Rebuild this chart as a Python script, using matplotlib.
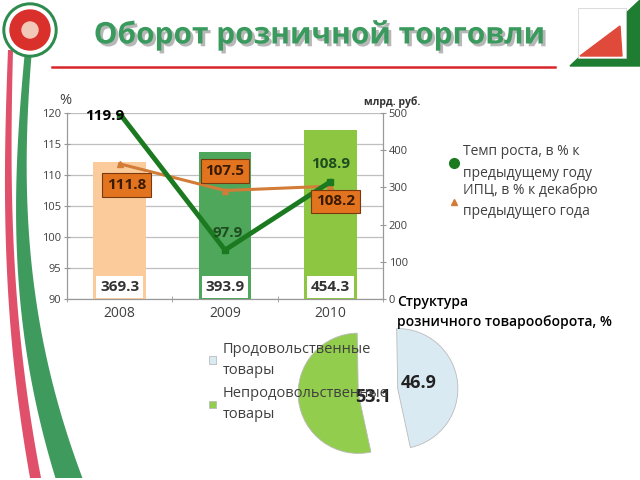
import matplotlib
matplotlib.use("Agg")
import matplotlib.pyplot as plt
import matplotlib.patheffects as pe
from matplotlib.patches import Polygon, Circle, Rectangle
from matplotlib.lines import Line2D
import numpy as np

plt.rcParams['font.family'] = ['Open Sans', 'DejaVu Sans']

# ---- data ----
years = ['2008', '2009', '2010']
turnover = [369.3, 393.9, 454.3]          # млрд. руб. (right axis)
growth = [119.9, 97.9, 108.9]             # Темп роста, %
cpi = [111.8, 107.5, 108.2]               # ИПЦ, %
pie_labels = ['Продовольственные\nтовары', 'Непродовольственные\nтовары']
pie_values = [46.9, 53.1]
left_ticks = [90, 95, 100, 105, 110, 115, 120]
right_ticks = [0, 100, 200, 300, 400, 500]

bar_colors = ['#FCCB9B', '#4FA75B', '#8DC641']
green = '#1B7A20'
orange = '#D27C38'
txt = '#404040'

fig = plt.figure(figsize=(6.4, 4.8), dpi=100)
fig.patch.set_facecolor('white')

# ---- decorations ----
deco = fig.add_axes([0, 0, 1, 1], zorder=-5)
deco.set_xlim(0, 640); deco.set_ylim(480, 0); deco.axis('off')
t = np.linspace(0, 1, 60)
ry = 50 + 428 * t
# red stripe
rx_l = 8 - 7 * np.sin(np.pi * t * 0.75) + 27 * t ** 2.4
rx_r = rx_l + 5 + 6 * t
deco.add_patch(Polygon(np.column_stack([np.r_[rx_l, rx_r[::-1]], np.r_[ry, ry[::-1]]]),
                       closed=True, color='#E0506A', lw=0))
# green stripe
gx_l = 25 - 18 * np.sin(np.pi * t * 0.7) + 45 * t ** 2.4
gx_r = gx_l + 7 + 20 * t ** 1.5
deco.add_patch(Polygon(np.column_stack([np.r_[gx_l, gx_r[::-1]], np.r_[ry, ry[::-1]]]),
                       closed=True, color='#3F9A5E', lw=0))
# left logo
deco.add_patch(Circle((30, 30), 27, color='#2E8B4E'))
deco.add_patch(Circle((30, 30), 24, color='white'))
deco.add_patch(Circle((30, 30), 20, color='#D9302C'))
deco.add_patch(Circle((30, 30), 8, color='#F2C9B8'))
# right logo
deco.add_patch(Polygon([[570, 66], [640, 0], [640, 66]], closed=True, color='#1E7D30'))
deco.add_patch(Rectangle((578, 8), 48, 50, color='white', ec='#cccccc', lw=0.5))
deco.add_patch(Polygon([[580, 56], [620, 26], [622, 56]], closed=True, color='#E04A3A'))
# red line under title
deco.plot([52, 555], [67, 67], color='#D9262B', lw=1.8)

# title
fig.text(320 / 640, 1 - 35 / 480, 'Оборот розничной торговли', ha='center', va='center',
         fontsize=21.5, fontweight='bold', color='#3A9A5E', family=['Open Sans', 'DejaVu Sans'],
         path_effects=[pe.withSimplePatchShadow(offset=(2, -2), shadow_rgbFace='#888888', alpha=0.6)])

# ---- bar/line chart ----
ax = fig.add_axes([67 / 640, 1 - 299 / 480, 316 / 640, 186 / 480])
axr = ax.twinx()
x = np.arange(len(years))
axr.bar(x, turnover, width=0.5, color=bar_colors, zorder=1)
axr.set_ylim(0, 500)
axr.set_yticks(right_ticks)
ax.set_ylim(90, 120)
ax.set_xlim(-0.5, 2.5)
ax.set_yticks(left_ticks)
ax.yaxis.grid(True, color='#BFBFBF', lw=0.9)
ax.set_axisbelow(True)
ax.set_xticks(x)
ax.set_xticklabels(years, fontsize=10, color=txt)
ax.tick_params(axis='x', length=0, pad=5)
ax.set_xticks([-0.5, 0.5, 1.5, 2.5], minor=True)
ax.tick_params(axis='x', which='minor', length=4, direction='inout', color='#999999')
ax.tick_params(axis='y', labelsize=8, colors=txt, length=4, direction='inout', color='#999999', pad=2)
axr.tick_params(axis='y', labelsize=8, colors=txt, length=4, direction='inout', color='#999999', pad=2)
for a in (ax, axr):
    for s in a.spines.values():
        s.set_color('#999999')
    a.spines['top'].set_visible(False)

# overlay axes for lines (above bars)
axl = fig.add_axes(ax.get_position(), sharex=ax, zorder=3)
axl.set_ylim(90, 120)
axl.patch.set_alpha(0)
axl.axis('off')
axl.plot(x, growth, color=green, lw=3.5, marker='s', ms=5, zorder=3)
axl.plot(x, cpi, color=orange, lw=2.2, marker='^', ms=5, zorder=2)

# bar value boxes
for i, v in enumerate(turnover):
    axr.text(i, 32, f'{v:.1f}', ha='center', va='center', fontsize=11, fontweight='bold',
             color='#333333', zorder=4,
             bbox=dict(boxstyle='square,pad=0.25', fc='white', ec='none'))

# line labels
g_off = [(-11, -2), (2, 12), (0, 13)]
c_off = [(5, -15), (0, 14), (4, -11)]
for i, v in enumerate(growth):
    col = 'black' if i == 0 else '#1E4D1E'
    axl.annotate(f'{v:.1f}', (x[i], v), xytext=g_off[i], textcoords='offset points',
                 ha='center', va='center', fontsize=11, fontweight='bold', color=col, zorder=5)
for i, v in enumerate(cpi):
    axl.annotate(f'{v:.1f}', (x[i], v), xytext=c_off[i], textcoords='offset points',
                 ha='center', va='center', fontsize=11, fontweight='bold', color='#3A1A00', zorder=5,
                 bbox=dict(boxstyle='square,pad=0.32', fc='#E2731F', ec='#7A3A10', lw=0.8))

fig.text(65 / 640, 1 - 100 / 480, '%', ha='center', va='center', fontsize=10.5, color=txt)
fig.text(392 / 640, 1 - 102 / 480, 'млрд. руб.', ha='center', va='center', fontsize=7.5,
         fontweight='bold', color='#333333')

# legend for lines
handles = [Line2D([], [], color=green, marker='o', ls='none', ms=7),
           Line2D([], [], color=orange, marker='^', ls='none', ms=5)]
leg1 = fig.legend(handles, ['Темп роста, в % к\nпредыдущему году', 'ИПЦ, в % к декабрю\nпредыдущего года'],
                  loc='upper left', bbox_to_anchor=(436 / 640, 1 - 132 / 480), frameon=False,
                  fontsize=10, labelcolor=txt, handlelength=0.8, handletextpad=0.25,
                  labelspacing=0.2)
for tx in leg1.get_texts():
    tx.set_linespacing(1.55)

# ---- pie ----
axp = fig.add_axes([(378 - 80) / 640, (89 - 80) / 480, 160 / 640, 160 / 480])
wedges, _ = axp.pie(pie_values, colors=['#DAEAF3', '#92CD4E'], startangle=91,
                    counterclock=False, explode=[0.33, 0.33], radius=1,
                    wedgeprops=dict(ec='#BBBBBB', lw=0.6))
axp.set_xlim(-1.33, 1.33)
axp.set_ylim(-1.33, 1.33)
axp.text(0.67, 0.13, f'{pie_values[0]:.1f}', ha='center', va='center', fontsize=13,
         fontweight='bold', color='#222222', zorder=5)
axp.text(-0.08, -0.1, f'{pie_values[1]:.1f}', ha='center', va='center', fontsize=13,
         fontweight='bold', color='#222222', zorder=5)
leg2 = fig.legend(wedges, pie_labels, loc='upper left', bbox_to_anchor=(196 / 640, 1 - 329 / 480),
                  frameon=False, fontsize=10.5, labelcolor=txt, handlelength=0.45, handleheight=0.45,
                  handletextpad=0.5, labelspacing=0.6)
for tx in leg2.get_texts():
    tx.set_linespacing(1.5)

fig.text(397 / 640, 1 - 312 / 480, 'Структура\nрозничного товарооборота, %', ha='left', va='center',
         fontsize=10, fontweight='semibold', color='black', linespacing=1.5)

fig.savefig('out.png', dpi=100)
